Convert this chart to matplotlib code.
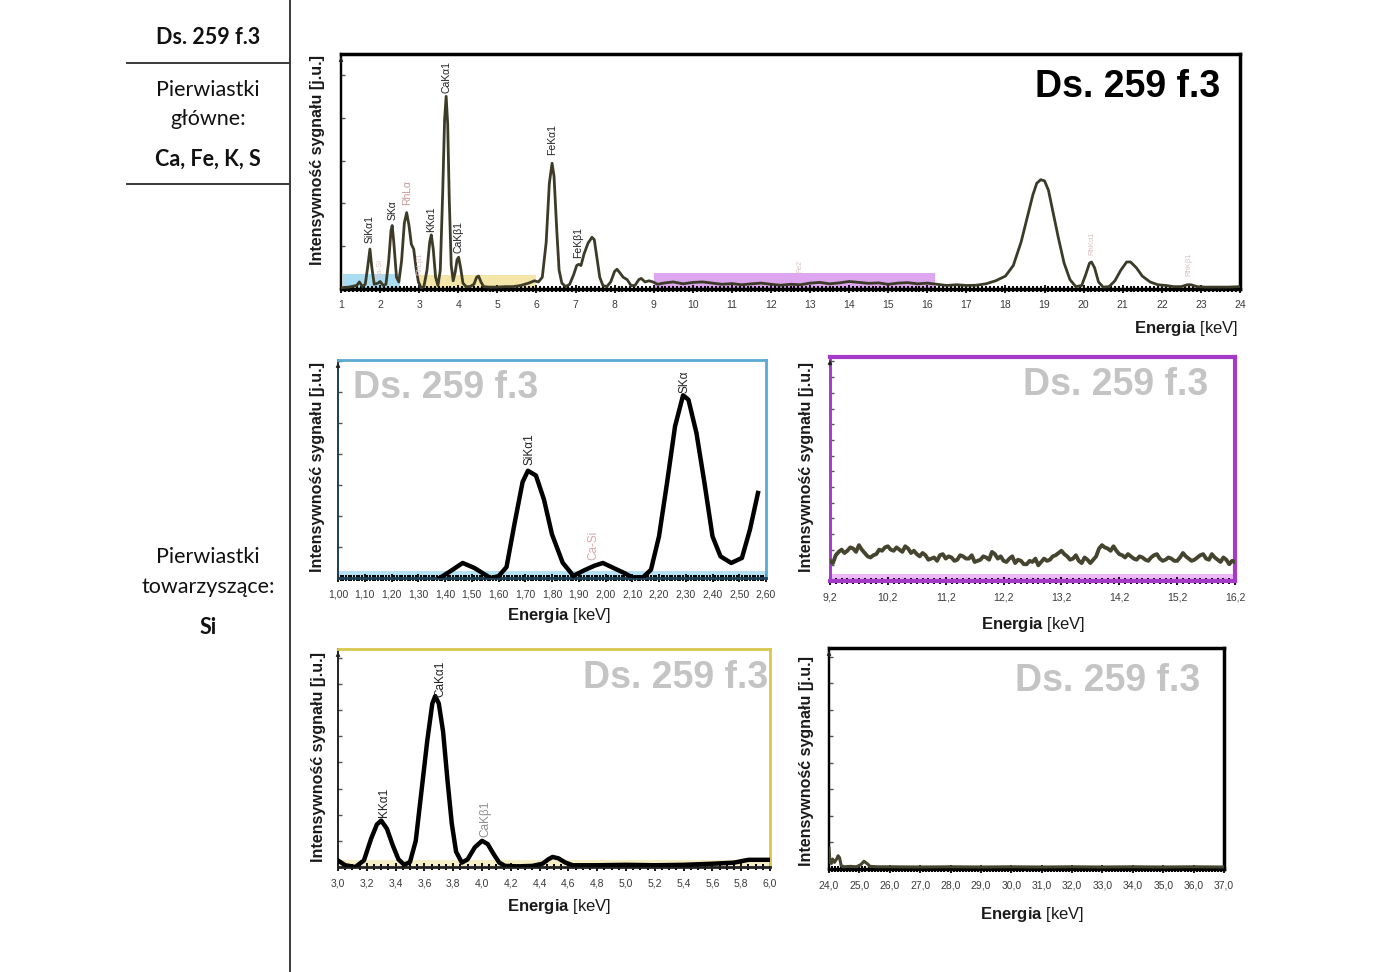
import matplotlib
matplotlib.use('Agg')
import matplotlib.pyplot as plt
from matplotlib.ticker import MultipleLocator, FixedLocator, FuncFormatter
from matplotlib.lines import Line2D
import numpy as np

plt.rcParams['font.family'] = ['Liberation Sans', 'DejaVu Sans']
plt.rcParams['mathtext.fontset'] = 'custom'
plt.rcParams['mathtext.rm'] = 'Liberation Sans'
plt.rcParams['mathtext.bf'] = 'Liberation Sans:bold'

# ---------------- data ----------------
sample_name = "Ds. 259 f.3"
main_elements = "Ca, Fe, K, S"
trace_elements = "Si"

# overview spectrum 1-24 keV
main_energy = [1.00, 1.20, 1.40, 1.47, 1.55, 1.62, 1.68, 1.74, 1.79, 1.85, 1.95, 2.00, 2.08,
               2.15, 2.22, 2.28, 2.31, 2.35, 2.42, 2.48, 2.55, 2.62, 2.68, 2.74, 2.80, 2.86,
               2.92, 2.98, 3.05, 3.12, 3.20, 3.27, 3.31, 3.36, 3.42, 3.48, 3.54, 3.60, 3.65,
               3.69, 3.73, 3.77, 3.82, 3.87, 3.92, 3.97, 4.01, 4.06, 4.12, 4.20, 4.30, 4.40,
               4.47, 4.52, 4.58, 4.65, 4.80, 5.00, 5.20, 5.40, 5.60, 5.80, 5.95, 6.05, 6.15,
               6.25, 6.33, 6.40, 6.45, 6.52, 6.58, 6.65, 6.75, 6.85, 6.95, 7.03, 7.08, 7.14,
               7.22, 7.32, 7.42, 7.48, 7.55, 7.62, 7.70, 7.80, 7.90, 8.00, 8.06, 8.13, 8.22,
               8.32, 8.42, 8.52, 8.62, 8.68, 8.78, 8.88, 8.98, 9.10, 9.25, 9.50, 9.75, 10.00,
               10.25, 10.50, 10.75, 11.00, 11.25, 11.50, 11.75, 12.00, 12.25, 12.50, 12.75,
               13.00, 13.25, 13.50, 13.75, 14.00, 14.25, 14.50, 14.75, 15.00, 15.25, 15.50,
               15.75, 16.00, 16.25, 16.50, 16.75, 17.00, 17.25, 17.50, 17.75, 18.00, 18.20,
               18.40, 18.55, 18.70, 18.80, 18.90, 19.00, 19.10, 19.20, 19.35, 19.50, 19.65,
               19.80, 19.95, 20.05, 20.15, 20.20, 20.28, 20.38, 20.50, 20.65, 20.80, 20.95,
               21.10, 21.20, 21.35, 21.50, 21.70, 21.90, 22.10, 22.30, 22.50, 22.65, 22.75,
               22.90, 23.10, 23.40, 23.70, 24.00]
main_intensity = [0.5, 0.8, 1.5, 3.0, 1.0, 2.0, 9.0, 17.0, 9.0, 2.0, 2.5, 3.2, 1.5,
                  2.0, 12.0, 25.0, 27.0, 20.0, 5.0, 3.0, 12.0, 28.0, 32.5, 27.0, 19.0, 17.0,
                  9.0, 3.0, 0.5, 1.0, 8.0, 20.0, 23.0, 17.0, 5.0, 1.5, 8.0, 40.0, 72.0,
                  82.0, 70.0, 38.0, 10.0, 3.5, 7.0, 12.5, 13.5, 9.0, 2.5, 1.0, 1.0, 2.0,
                  5.0, 5.5, 3.0, 1.0, 0.8, 0.8, 1.0, 1.0, 1.5, 2.5, 3.5, 3.0, 5.0,
                  20.0, 45.0, 53.5, 48.0, 25.0, 8.0, 2.5, 1.0, 2.0, 6.0, 10.0, 10.5, 10.0,
                  15.0, 19.5, 22.0, 21.0, 13.0, 5.0, 1.5, 1.0, 3.0, 7.5, 8.4, 7.0, 5.0,
                  4.0, 1.5, 1.5, 4.0, 4.5, 3.0, 3.5, 3.0, 2.0, 2.5, 3.0, 2.2, 2.8,
                  3.0, 2.5, 2.0, 2.3, 1.8, 2.2, 2.5, 2.0, 1.6, 2.0, 1.8,
                  2.5, 2.8, 2.2, 2.6, 3.2, 2.8, 2.4, 2.6, 2.0, 2.5, 2.7,
                  2.2, 2.5, 2.0, 1.5, 1.8, 1.5, 1.6, 2.2, 3.5, 5.5, 10.0,
                  20.0, 30.0, 40.0, 45.0, 46.5, 46.0, 42.0, 34.0, 22.0, 11.0, 4.0,
                  1.0, 1.5, 6.0, 11.0, 11.5, 9.0, 3.0, 0.8, 1.0, 3.5, 8.0,
                  11.5, 11.5, 9.0, 5.5, 3.0, 1.8, 1.5, 1.0, 1.0, 1.8, 1.8,
                  1.0, 0.8, 0.8, 0.8, 1.0]
main_peak_labels = ["SiKα1", "SKα", "RhLα", "KKα1", "CaKα1", "CaKβ1", "FeKα1", "FeKβ1"]
main_peak_energy = [1.74, 2.31, 2.69, 3.31, 3.69, 4.01, 6.40, 7.06]
main_peak_label_base = [19.6, 29.4, 35.7, 24.3, 83.4, 15.3, 57.0, 13.2]
main_peak_label_colors = ["#222222", "#222222", "#c99a9a", "#222222", "#222222", "#222222",
                          "#222222", "#222222"]
faint_labels = ["Ca-Si", "RhLβ1", "Fe2", "RhKα1", "RhKβ1"]
faint_energy = [2.00, 3.02, 12.75, 20.20, 22.70]
faint_base = [4.7, 6.0, 7.0, 14.5, 5.5]
main_ticks = list(range(1, 25))
# zoom windows shown on overview
band_start = [1.05, 3.0, 9.0]
band_end = [2.5, 6.0, 16.2]
band_height = [6.5, 6.0, 7.0]
band_colors = ["#aadcf2", "#f3e6a8", "#dda6ee"]

# Si / S window 1.00-2.60 keV
si_energy = [1.38, 1.42, 1.466, 1.51, 1.57, 1.60, 1.63, 1.66, 1.69, 1.71, 1.74, 1.77, 1.80,
             1.84, 1.88, 1.92, 1.96, 1.99, 2.03, 2.07, 2.10, 2.14, 2.17, 2.20, 2.23, 2.26,
             2.29, 2.31, 2.34, 2.37, 2.40, 2.43, 2.47, 2.51, 2.54, 2.57]
si_intensity = [0.0, 3.1, 6.9, 4.6, 0.0, 0.8, 5.0, 25.0, 44.0, 49.2, 47.0, 36.0, 20.0,
                7.0, 1.0, 3.5, 5.7, 6.9, 4.6, 2.3, 0.3, 0.3, 3.8, 19.1, 43.6, 69.6,
                83.8, 81.8, 66.5, 43.6, 19.1, 9.9, 6.9, 9.2, 22.2, 39.0]
si_ticks = [1.00, 1.10, 1.20, 1.30, 1.40, 1.50, 1.60, 1.70, 1.80, 1.90, 2.00, 2.10, 2.20,
            2.30, 2.40, 2.50, 2.60]
si_labels = ["SiKα1", "SKα", "Ca-Si"]
si_label_energy = [1.715, 2.295, 1.955]
si_label_base = [51.8, 84.9, 8.3]
si_label_colors = ["#222222", "#222222", "#d7a8a8"]

# 9.2-16.2 keV window
mid_energy = [9.20, 9.25, 9.30, 9.35, 9.40, 9.45, 9.50, 9.55, 9.60, 9.65, 9.70, 9.75, 9.80,
              9.85, 9.90, 9.95, 10.00, 10.05, 10.10, 10.15, 10.20, 10.25, 10.30, 10.35,
              10.40, 10.45, 10.50, 10.55, 10.60, 10.65, 10.70, 10.75, 10.80, 10.85, 10.90,
              10.95, 11.00, 11.05, 11.10, 11.15, 11.20, 11.25, 11.30, 11.35, 11.40, 11.45,
              11.50, 11.55, 11.60, 11.65, 11.70, 11.75, 11.80, 11.85, 11.90, 11.95, 12.00,
              12.05, 12.10, 12.15, 12.20, 12.25, 12.30, 12.35, 12.40, 12.45, 12.50, 12.55,
              12.60, 12.65, 12.70, 12.75, 12.80, 12.85, 12.90, 12.95, 13.00, 13.05, 13.10,
              13.15, 13.20, 13.25, 13.30, 13.35, 13.40, 13.45, 13.50, 13.55, 13.60, 13.65,
              13.70, 13.75, 13.80, 13.85, 13.90, 13.95, 14.00, 14.05, 14.10, 14.15, 14.20,
              14.25, 14.30, 14.35, 14.40, 14.45, 14.50, 14.55, 14.60, 14.65, 14.70, 14.75,
              14.80, 14.85, 14.90, 14.95, 15.00, 15.05, 15.10, 15.15, 15.20, 15.25, 15.30,
              15.35, 15.40, 15.45, 15.50, 15.55, 15.60, 15.65, 15.70, 15.75, 15.80, 15.85,
              15.90, 15.95, 16.00, 16.05, 16.10, 16.15, 16.20]
mid_intensity = [9.0, 8.0, 11.5, 13.0, 14.0, 12.5, 13.5, 15.0, 14.5, 13.0, 16.0, 14.0, 12.5,
                 11.0, 10.5, 11.5, 12.0, 14.0, 13.5, 15.0, 15.5, 14.0, 13.5, 15.0,
                 14.0, 13.0, 15.5, 14.5, 12.5, 13.5, 12.0, 11.0, 12.5, 11.5, 9.5,
                 10.0, 10.5, 9.0, 11.5, 12.0, 10.0, 11.0, 10.5, 9.0, 9.5, 11.5,
                 11.0, 10.0, 10.0, 11.5, 8.5, 9.0, 9.5, 11.0, 10.5, 9.5, 13.0,
                 12.0, 10.0, 11.0, 9.0, 8.5, 10.0, 11.0, 8.0, 9.5, 9.0, 7.5,
                 7.5, 9.0, 8.5, 10.0, 7.0, 8.5, 10.0, 9.0, 9.5, 11.0, 11.5,
                 12.5, 13.5, 12.0, 11.0, 9.5, 10.0, 11.5, 9.0, 8.0, 10.5, 9.5,
                 8.0, 9.5, 11.0, 14.5, 16.0, 15.0, 14.5, 13.5, 15.5, 13.5, 12.0,
                 11.5, 10.5, 12.0, 11.0, 10.0, 9.5, 11.0, 10.5, 9.5, 9.0, 10.5,
                 11.5, 12.0, 10.0, 9.0, 9.5, 10.5, 10.0, 9.0, 9.0, 10.5, 12.5,
                 11.0, 10.0, 9.0, 9.5, 10.5, 11.5, 12.0, 10.0, 9.5, 12.0, 10.5,
                 9.5, 8.5, 10.5, 9.5, 7.5, 9.0, 8.5]
mid_ticks = [9.2, 10.2, 11.2, 12.2, 13.2, 14.2, 15.2, 16.2]

# K / Ca window 3.0-6.0 keV
ca_energy = [3.00, 3.05, 3.12, 3.18, 3.23, 3.27, 3.30, 3.34, 3.38, 3.42, 3.46, 3.50, 3.54,
             3.58, 3.62, 3.655, 3.675, 3.70, 3.73, 3.76, 3.79, 3.82, 3.86, 3.90, 3.95, 4.00,
             4.04, 4.08, 4.12, 4.16, 4.25, 4.35, 4.42, 4.46, 4.49, 4.53, 4.58, 4.63, 4.80,
             5.00, 5.20, 5.40, 5.60, 5.75, 5.85, 6.00]
ca_intensity = [3.0, 0.8, 0.0, 3.0, 13.0, 19.5, 21.3, 17.5, 10.0, 3.5, 1.0, 2.3, 12.0,
                35.0, 58.0, 75.0, 78.4, 75.0, 62.0, 40.0, 20.0, 7.0, 2.0, 3.5, 9.0, 12.0,
                10.5, 6.0, 2.0, 0.5, 0.3, 0.5, 1.5, 3.5, 4.6, 4.0, 2.0, 0.8, 0.8,
                1.0, 0.8, 1.0, 1.5, 2.0, 3.3, 3.3]
ca_ticks = [3.0, 3.2, 3.4, 3.6, 3.8, 4.0, 4.2, 4.4, 4.6, 4.8, 5.0, 5.2, 5.4, 5.6, 5.8, 6.0]
ca_labels = ["KKα1", "CaKα1", "CaKβ1"]
ca_label_energy = [3.32, 3.71, 4.02]
ca_label_base = [22.9, 78.0, 13.8]
ca_label_colors = ["#222222", "#222222", "#909090"]

# 24-37 keV window
hi_energy = [24.00, 24.03, 24.08, 24.12, 24.18, 24.25, 24.30, 24.35, 24.40, 24.50, 24.70,
             24.90, 25.05, 25.15, 25.25, 25.35, 25.60, 26.0, 27.0, 28.0, 29.0, 30.0, 31.0,
             32.0, 33.0, 34.0, 35.0, 36.0, 37.0]
hi_intensity = [9.5, 3.0, 2.5, 4.5, 3.0, 4.5, 6.0, 5.0, 1.5, 1.0, 1.2,
                1.0, 2.0, 3.5, 2.5, 1.2, 1.0, 1.0, 0.9, 1.0, 0.9, 1.0, 0.9,
                1.0, 0.9, 1.0, 0.9, 1.0, 0.9]
hi_ticks = [24.0, 25.0, 26.0, 27.0, 28.0, 29.0, 30.0, 31.0, 32.0, 33.0, 34.0, 35.0, 36.0, 37.0]

# ---------------- figure ----------------
W, H = 1400, 972
fig = plt.figure(figsize=(W / 100, H / 100), dpi=100)


def rect(x0, y0, x1, y1):
    return [x0 / W, 1 - y1 / H, (x1 - x0) / W, (y1 - y0) / H]


def fx(x):
    return x / W


def fy(y):
    return 1 - y / H


# left table
line_kw = dict(color="#3a3a3a", lw=1.4, transform=fig.transFigure)
fig.add_artist(Line2D([fx(290), fx(290)], [0, 1], **line_kw))
fig.add_artist(Line2D([fx(127), fx(290)], [fy(63), fy(63)], **line_kw))
fig.add_artist(Line2D([fx(127), fx(290)], [fy(184), fy(184)], **line_kw))
side = dict(ha="center", va="center", fontsize=15.5, family=["Lato", "DejaVu Sans"],
            color="#111111")
fig.text(fx(208), fy(38), sample_name, fontweight="bold", **side)
fig.text(fx(208), fy(90), "Pierwiastki", **side)
fig.text(fx(208), fy(119), "główne:", **side)
fig.text(fx(208), fy(159), main_elements, fontweight="bold", **side)
fig.text(fx(208), fy(557), "Pierwiastki", **side)
fig.text(fx(208), fy(587), "towarzyszące:", **side)
fig.text(fx(208), fy(627), trace_elements, fontweight="bold", **side)

narrow = ["Liberation Sans Narrow", "Liberation Sans", "DejaVu Sans"]
ylab = "Intensywność sygnału [j.u.]"
xlab = r"$\mathbf{Energia}$ [keV]"


def style(ax, xlim, ticks, fmt, minor, frame_color, left_color, bottom_color, lw,
          ylab_x, ylab_y, xlab_x, xlab_y, ytick_step):
    ax.set_xlim(*xlim)
    ax.set_ylim(0, 100)
    ax.xaxis.set_major_locator(FixedLocator(ticks))
    ax.xaxis.set_major_formatter(FuncFormatter(fmt))
    ax.xaxis.set_minor_locator(MultipleLocator(minor))
    ax.yaxis.set_major_locator(MultipleLocator(ytick_step))
    ax.set_yticklabels([])
    ax.tick_params(axis="x", which="major", direction="inout", length=6, width=1.3,
                   color="black", labelsize=7.5, labelcolor="#3a3a3a", pad=5)
    ax.tick_params(axis="x", which="minor", direction="inout", length=4, width=1.4,
                   color="black")
    ax.tick_params(axis="y", which="major", direction="in", length=3, width=1,
                   color="#555555")
    for lab in ax.get_xticklabels():
        lab.set_family(narrow)
    for s in ["top", "right"]:
        ax.spines[s].set_color(frame_color)
        ax.spines[s].set_linewidth(lw)
    ax.spines["left"].set_color(left_color)
    ax.spines["left"].set_linewidth(lw * 0.7)
    ax.spines["bottom"].set_color(bottom_color)
    ax.spines["bottom"].set_linewidth(lw)
    ax.text(ylab_x, ylab_y, ylab, transform=ax.transAxes, rotation=90, ha="center",
            va="center", fontsize=11.5, fontweight="bold", color="#1a1a1a")
    ax.text(xlab_x, xlab_y, xlab, transform=ax.transAxes, ha="center", va="center",
            fontsize=12, color="#1a1a1a")
    ax.annotate("", xy=(0, 1.0), xytext=(0, 0.95), xycoords="axes fraction",
                arrowprops=dict(arrowstyle="-|>", color="#222222", lw=0.8, mutation_scale=6))


def label_peaks(ax, names, xs, bases, colors, size):
    for n, x, b, c in zip(names, xs, bases, colors):
        ax.text(x, b, n, rotation=90, ha="center", va="bottom", fontsize=size, color=c)


# ---- main overview ----
ax = fig.add_axes(rect(341, 54, 1240, 289))
for x0, x1, h, c in zip(band_start, band_end, band_height, band_colors):
    ax.fill_between([x0, x1], 0, h, color=c, lw=0, zorder=1)
ax.plot(main_energy, main_intensity, color="#3b3b28", lw=2.0, zorder=3)
style(ax, (1, 24), main_ticks, lambda v, p: f"{v:.0f}", 0.1, "black", "black", "black", 2.5,
      -0.0256, 0.549, 0.94, -0.17, 18.2)
label_peaks(ax, main_peak_labels, main_peak_energy, main_peak_label_base,
            main_peak_label_colors, 7.5)
label_peaks(ax, faint_labels, faint_energy, faint_base, ["#dcc0c0"] * len(faint_labels), 5.5)
ax.text(0.978, 0.86, sample_name, transform=ax.transAxes, ha="right", va="center",
        fontsize=27, fontweight="bold", color="black")

# ---- Si / S window ----
ax = fig.add_axes(rect(338, 360, 766, 578))
ax.fill_between([si_ticks[0], si_ticks[-1]], 0, 3.2, color="#b6e2f4", lw=0, zorder=1)
ax.plot(si_energy, si_intensity, color="black", lw=3.2, zorder=3)
style(ax, (1.0, 2.6), si_ticks, lambda v, p: f"{v:.2f}".replace(".", ","), 0.01,
      "#5aaad2", "#1b3f55", "#1b3f55", 2.0, -0.047, 0.51, 0.516, -0.174, 14.2)
label_peaks(ax, si_labels, si_label_energy, si_label_base, si_label_colors, 8.5)
ax.text(0.035, 0.87, sample_name, transform=ax.transAxes, ha="left", va="center",
        fontsize=27, fontweight="bold", color="#c4c4c4")

# ---- 9.2-16.2 window ----
ax = fig.add_axes(rect(830, 357, 1235, 581))
ax.fill_between([mid_ticks[0], mid_ticks[-1]], 0, 3.0, color="#ecb8f6", lw=0, zorder=1)
ax.plot(mid_energy, mid_intensity, color="#45452f", lw=2.8, zorder=3)
style(ax, (9.2, 16.2), mid_ticks, lambda v, p: f"{v:.1f}".replace(".", ","), 0.1,
      "#a63ac8", "#a63ac8", "#a63ac8", 3.0, -0.059, 0.51, 0.501, -0.192, 7.0)
ax.text(0.933, 0.875, sample_name, transform=ax.transAxes, ha="right", va="center",
        fontsize=27, fontweight="bold", color="#c4c4c4")

# ---- K / Ca window ----
ax = fig.add_axes(rect(338, 649, 770, 867))
ax.fill_between([ca_ticks[0], ca_ticks[-1]], 0, 3.0, color="#f5eec6", lw=0, zorder=1)
ax.plot(ca_energy, ca_intensity, color="black", lw=3.2, zorder=3)
style(ax, (3.0, 6.0), ca_ticks, lambda v, p: f"{v:.1f}".replace(".", ","), 0.05,
      "#d8c74e", "#222222", "#222222", 2.0, -0.046, 0.505, 0.512, -0.183, 12.0)
label_peaks(ax, ca_labels, ca_label_energy, ca_label_base, ca_label_colors, 8.5)
ax.text(0.995, 0.867, sample_name, transform=ax.transAxes, ha="right", va="center",
        fontsize=27, fontweight="bold", color="#c4c4c4")

# ---- 24-37 window ----
ax = fig.add_axes(rect(829, 648, 1224, 869))
ax.plot(hi_energy, hi_intensity, color="#45452f", lw=2.2, zorder=3)
style(ax, (24.0, 37.0), hi_ticks, lambda v, p: f"{v:.1f}".replace(".", ","), 0.1,
      "black", "black", "black", 2.5, -0.058, 0.49, 0.515, -0.208, 12.0)
ax.text(0.94, 0.85, sample_name, transform=ax.transAxes, ha="right", va="center",
        fontsize=27, fontweight="bold", color="#c4c4c4")

fig.savefig("out.png", dpi=100)
